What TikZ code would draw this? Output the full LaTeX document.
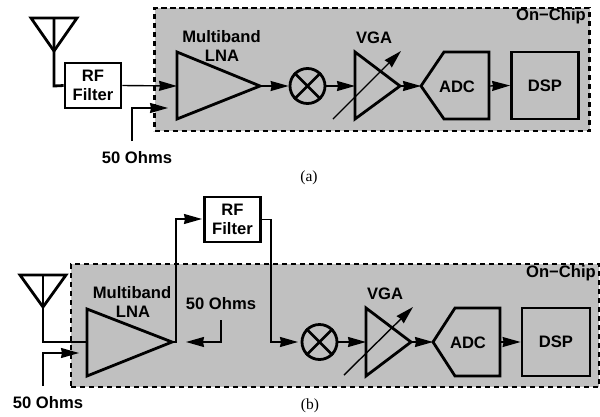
\documentclass[tikz,border=0pt]{standalone}
\usepackage{fontspec}
\setmainfont{Liberation Sans}
\newfontfamily\capfont{Liberation Serif}
\usetikzlibrary{arrows.meta}
\definecolor{chipgray}{RGB}{192,192,192}
\newcommand{\lab}{\bfseries\fontsize{16.6}{19.5}\selectfont}
\tikzset{
  chip/.style={draw=black,fill=chipgray,line width=2.8pt,dash pattern=on 5.2pt off 3.8pt},
  heavy/.style={draw=black,line width=2.8pt,line join=miter},
  wire/.style={draw=black,line width=1.4pt},
  thickwire/.style={draw=black,line width=2.8pt,line join=miter},
  sig/.style={wire,-{Stealth[length=18pt,width=10pt,inset=1pt]}},
  lab/.style={inner sep=0pt,align=center,font=\lab},
  figcap/.style={inner sep=0pt,font=\capfont\fontsize{15.5}{15.5}\selectfont},
  mix/.style={circle,heavy,minimum size=35pt,inner sep=0pt},
}
\begin{document}
\begin{tikzpicture}[x=1pt,y=-1pt]
\useasboundingbox (0,0) rectangle (600,416);
% ---------- panel (a)
\node[chip,minimum width=435pt,minimum height=123pt,inner sep=0pt] (chipa) at (372,69.5) {};
\node[lab,anchor=east] (oca) at (586,16.5) {On−Chip};
\coordinate (ta1) at (31,18); \coordinate (ta2) at (77,18); \coordinate (ta3) at (54,51); \coordinate (ta0) at (54,18);
\draw[heavy] (ta1) -- (ta2) -- (ta3) -- cycle;
\node[heavy,minimum width=56pt,minimum height=45pt,inner sep=0pt,align=center,font=\lab,fill=white] (fa) at (93,85.5) {RF\\Filter};
\draw[thickwire] (ta0) -- (ta3) -- (54,86) -- (fa.west);
\coordinate (la1) at (177,52); \coordinate (la2) at (177,119); \coordinate (la3) at (260,86); \coordinate (la0) at (177,86);
\draw[heavy] (la1) -- (la3) -- (la2) -- cycle;
\node[lab] (mba) at (221.5,36.5) {Multiband};
\node[lab] (lnaa) at (222,55.5) {LNA};
\draw[sig] (fa.east) -- (la0);
\coordinate (oa0) at (132,141); \coordinate (oa1) at (168,108);
\draw[sig] (oa0) |- (oa1);
\node[lab] (oha) at (137,157.5) {50 Ohms};
\node[mix] (ma) at (307.5,86) {};
\draw[heavy] (ma.45) -- (ma.225) (ma.135) -- (ma.315);
\draw[sig] (la3) -- (ma.west);
\coordinate (va1) at (355,52); \coordinate (va2) at (355,119); \coordinate (va3) at (400,86); \coordinate (va0) at (355,86);
\draw[heavy] (va1) -- (va3) -- (va2) -- cycle;
\draw[sig] (ma.east) -- (va0);
\coordinate (da1) at (333,119); \coordinate (da2) at (401,51);
\draw[sig] (da1) -- (da2);
\node[lab] (vgaa) at (374,37.5) {VGA};
\coordinate (aa0) at (421,86);
\draw[heavy] (aa0) -- (444,52) -- (489,52) -- (489,119) -- (444,119) -- cycle;
\node[lab] (adca) at (457,86.5) {ADC};
\draw[sig] (va3) -- (aa0);
\node[heavy,minimum width=67pt,minimum height=67pt,inner sep=0pt,font=\lab] (da) at (545,85.5) {DSP};
\coordinate (aa1) at (489,86);
\draw[sig] (aa1) -- (da.west);
\node[figcap] (capa) at (309,177.5) {(a)};
% ---------- panel (b)
\node[chip,minimum width=528pt,minimum height=123pt,inner sep=0pt] (chipb) at (335,325.5) {};
\node[lab,anchor=east] (ocb) at (596,273.5) {On−Chip};
\coordinate (tb1) at (20,275); \coordinate (tb2) at (66,275); \coordinate (tb3) at (43,307); \coordinate (tb0) at (43,275);
\draw[heavy] (tb1) -- (tb2) -- (tb3) -- cycle;
\coordinate (lb1) at (87,309); \coordinate (lb2) at (87,376); \coordinate (lb3) at (172,342); \coordinate (lb0) at (87,342);
\draw[thickwire] (tb0) -- (tb3) -- (43,342) -- (lb0);
\draw[heavy] (lb1) -- (lb3) -- (lb2) -- cycle;
\node[lab] (mbb) at (132,292.5) {Multiband};
\node[lab] (lnab) at (133,311.5) {LNA};
\coordinate (ob0) at (43,386); \coordinate (ob1) at (79,353);
\draw[sig] (ob0) |- (ob1);
\node[lab] (ohb) at (48,402.5) {50 Ohms};
\node[heavy,minimum width=56pt,minimum height=45pt,inner sep=0pt,align=center,font=\lab,fill=white] (fb) at (232.5,219.5) {RF\\Filter};
\coordinate (wb1) at (176,342); \coordinate (wb2) at (176,219); \coordinate (wb3) at (202,219);
\draw[sig] (lb3) -- (wb1) -- (wb2) -- (wb3);
\coordinate (wb4) at (271,219.5); \coordinate (wb5) at (271,342); \coordinate (wb6) at (298,342);
\node[mix] (mb) at (319.5,342) {};
\draw[heavy] (mb.45) -- (mb.225) (mb.135) -- (mb.315);
\draw[sig] (fb.east) -- (wb4) -- (wb5) -- (wb6);
\node[lab] (ohc) at (221,303.5) {50 Ohms};
\coordinate (oc0) at (221,320); \coordinate (oc1) at (186,342);
\draw[sig] (oc0) |- (oc1);
\coordinate (vb1) at (366,308); \coordinate (vb2) at (366,376); \coordinate (vb3) at (411,342); \coordinate (vb0) at (366,342);
\draw[heavy] (vb1) -- (vb3) -- (vb2) -- cycle;
\draw[sig] (mb.east) -- (vb0);
\coordinate (db1) at (344,375); \coordinate (db2) at (413,307);
\draw[sig] (db1) -- (db2);
\node[lab] (vgab) at (385,293.5) {VGA};
\coordinate (ab0) at (433,342);
\draw[heavy] (ab0) -- (455,308) -- (500,308) -- (500,376) -- (455,376) -- cycle;
\node[lab] (adcb) at (468,342.5) {ADC};
\draw[sig] (vb3) -- (ab0);
\node[heavy,minimum width=68pt,minimum height=68pt,inner sep=0pt,font=\lab] (db) at (556,342) {DSP};
\coordinate (ab1) at (500,342);
\draw[sig] (ab1) -- (db.west);
\node[figcap] (capb) at (310,405.5) {(b)};
\end{tikzpicture}
\end{document}
